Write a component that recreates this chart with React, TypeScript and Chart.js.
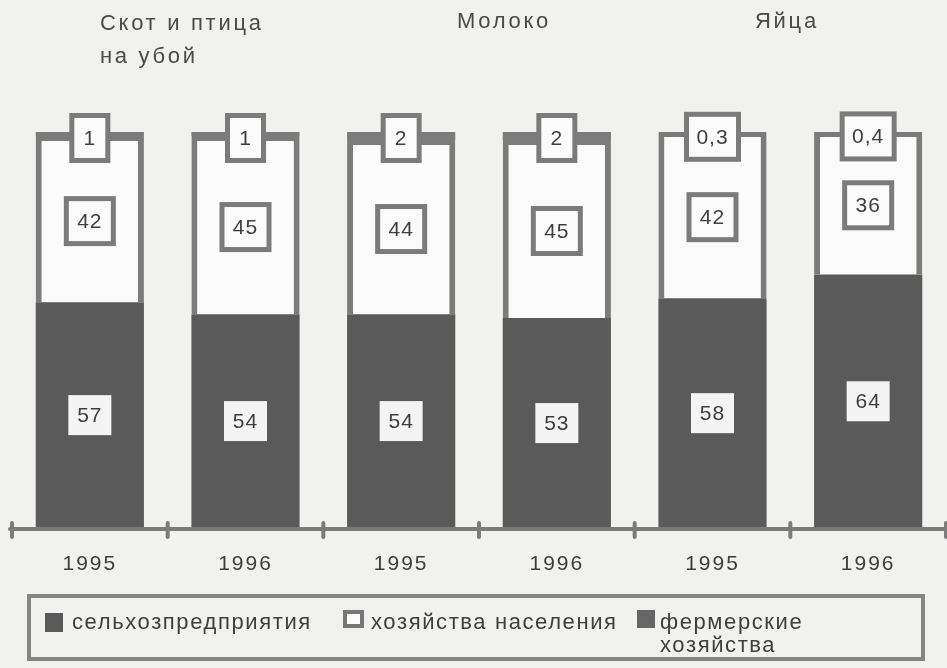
import React, { useEffect, useRef } from "react";
import { Chart, registerables } from "chart.js";

Chart.register(...registerables);

const yearLabels = ["1995", "1996", "1995", "1996", "1995", "1996"];
const groupTitles = ["Скот и птица\nна убой", "Молоко", "Яйца"];
const seriesNames = ["сельхозпредприятия", "хозяйства населения", "фермерские\nхозяйства"];
const enterprises = [57, 54, 54, 53, 58, 64];
const households = [42, 45, 44, 45, 42, 36];
const farms = [1, 1, 2, 2, 0.3, 0.4];

const GRAY = "#7b7b7b";
const DARK = "#5a5a5a";
const TEXT = "#3e3e3e";

const fmt = (v: number) => String(v).replace(".", ",");

function boxLabel(
  ctx: CanvasRenderingContext2D,
  cx: number,
  cy: number,
  w: number,
  h: number,
  text: string,
  border: number,
  fill: string
) {
  ctx.save();
  if (border > 0) {
    ctx.fillStyle = GRAY;
    ctx.fillRect(cx - w / 2, cy - h / 2, w, h);
    ctx.fillStyle = fill;
    ctx.fillRect(cx - w / 2 + border, cy - h / 2 + border, w - 2 * border, h - 2 * border);
  } else {
    ctx.fillStyle = fill;
    ctx.fillRect(cx - w / 2, cy - h / 2, w, h);
  }
  ctx.fillStyle = TEXT;
  ctx.font = "21px 'Liberation Sans', Arial, sans-serif";
  (ctx as any).letterSpacing = "1px";
  ctx.textAlign = "center";
  ctx.textBaseline = "middle";
  ctx.fillText(text, cx, cy + 1);
  ctx.restore();
}

const decorPlugin = {
  id: "decor",
  beforeDraw(chart: any) {
    (chart.ctx as any).letterSpacing = "2px";
  },
  afterDatasetsDraw(chart: any) {
    const ctx = chart.ctx as CanvasRenderingContext2D;
    const area = chart.chartArea;
    ctx.save();
    ctx.strokeStyle = GRAY;
    ctx.lineWidth = 4;
    ctx.lineCap = "round";
    const yb = area.bottom + 1;
    ctx.beginPath();
    ctx.moveTo(area.left - 2, yb);
    ctx.lineTo(area.right, yb);
    ctx.stroke();
    const n = yearLabels.length;
    for (let k = 0; k <= n; k++) {
      const x = area.left + (k * (area.right - area.left)) / n;
      ctx.beginPath();
      ctx.moveTo(x, yb - 6);
      ctx.lineTo(x, yb + 8);
      ctx.stroke();
    }
    ctx.restore();

    const m0 = chart.getDatasetMeta(0).data;
    const m1 = chart.getDatasetMeta(1).data;
    const m2 = chart.getDatasetMeta(2).data;
    for (let i = 0; i < n; i++) {
      const b0 = m0[i];
      boxLabel(ctx, b0.x, (b0.y + b0.base) / 2, 43, 40, fmt(enterprises[i]), 0, "#f4f4f4");
      const b1 = m1[i];
      boxLabel(ctx, b1.x, (b1.y + b1.base) / 2 + 2, 52, 50, fmt(households[i]), 5, "#fbfbfb");
      const b2 = m2[i];
      const t = fmt(farms[i]);
      const w = t.length > 1 ? 57 : 41;
      boxLabel(ctx, b2.x, b2.y + 6, w, 50, t, 5, "#fbfbfb");
    }
  },
};

export default function App() {
  const ref = useRef<HTMLCanvasElement | null>(null);

  useEffect(() => {
    if (!ref.current) return;
    const chart = new Chart(ref.current, {
      type: "bar",
      data: {
        labels: yearLabels,
        datasets: [
          {
            label: seriesNames[0],
            data: enterprises,
            backgroundColor: DARK,
            borderWidth: 0,
          },
          {
            label: seriesNames[1],
            data: households,
            backgroundColor: "#fbfbfb",
            borderColor: GRAY,
            borderWidth: { left: 6, right: 6, top: 5, bottom: 0 } as any,
            borderSkipped: false,
          },
          {
            label: seriesNames[2],
            data: farms,
            backgroundColor: GRAY,
            borderWidth: 0,
          },
        ],
      },
      options: {
        responsive: false,
        animation: false,
        events: [],
        layout: { padding: { top: 132, left: 12, right: 1, bottom: 0 } },
        datasets: {
          bar: { barPercentage: 0.695, categoryPercentage: 1 },
        },
        plugins: {
          legend: { display: false },
          tooltip: { enabled: false },
          title: { display: false },
        },
        scales: {
          x: {
            stacked: true,
            grid: { display: false, drawTicks: false },
            border: { display: false },
            ticks: {
              color: TEXT,
              font: { family: "'Liberation Sans', Arial, sans-serif", size: 21 },
              padding: 24,
              maxRotation: 0,
            },
            afterFit: (scale: any) => {
              scale.height = 140;
            },
          },
          y: {
            stacked: true,
            display: false,
            min: 0,
            max: 100,
          },
        },
      },
      plugins: [decorPlugin],
    });
    return () => chart.destroy();
  }, []);

  const titleStyle: React.CSSProperties = {
    position: "absolute",
    fontFamily: "'Liberation Sans', Arial, sans-serif",
    fontSize: 22,
    lineHeight: 1,
    letterSpacing: "2.7px",
    color: "#4a4a4a",
    whiteSpace: "nowrap",
  };
  const legendText: React.CSSProperties = {
    position: "absolute",
    fontFamily: "'Liberation Sans', Arial, sans-serif",
    fontSize: 22,
    lineHeight: 1,
    letterSpacing: "1.6px",
    color: TEXT,
    whiteSpace: "nowrap",
  };
  const t0 = groupTitles[0].split("\n");
  const l2 = seriesNames[2].split("\n");

  return (
    <div
      style={{
        position: "absolute",
        left: 0,
        top: 0,
        width: 947,
        height: 668,
        background: "#f1f1ef",
        overflow: "hidden",
      }}
    >
      <canvas ref={ref} width={947} height={668} style={{ position: "absolute", left: 0, top: 0 }} />
      <div style={{ ...titleStyle, left: 100, top: 12 }}>{t0[0]}</div>
      <div style={{ ...titleStyle, left: 100, top: 45 }}>{t0[1]}</div>
      <div style={{ ...titleStyle, left: 457, top: 10 }}>{groupTitles[1]}</div>
      <div style={{ ...titleStyle, left: 755, top: 10 }}>{groupTitles[2]}</div>

      <div
        style={{
          position: "absolute",
          left: 27,
          top: 594,
          width: 898,
          height: 67,
          border: "4px solid #858585",
          boxSizing: "border-box",
        }}
      />
      <div style={{ position: "absolute", left: 45, top: 613, width: 18, height: 19, background: DARK }} />
      <div style={{ ...legendText, left: 72, top: 611 }}>{seriesNames[0]}</div>
      <div
        style={{
          position: "absolute",
          left: 343,
          top: 610,
          width: 21,
          height: 18,
          background: "#fbfbfb",
          border: "4px solid #777",
          boxSizing: "border-box",
        }}
      />
      <div style={{ ...legendText, left: 371, top: 611 }}>{seriesNames[1]}</div>
      <div style={{ position: "absolute", left: 637, top: 610, width: 18, height: 18, background: "#666" }} />
      <div style={{ ...legendText, left: 660, top: 611 }}>{l2[0]}</div>
      <div style={{ ...legendText, left: 660, top: 634 }}>{l2[1]}</div>
    </div>
  );
}
